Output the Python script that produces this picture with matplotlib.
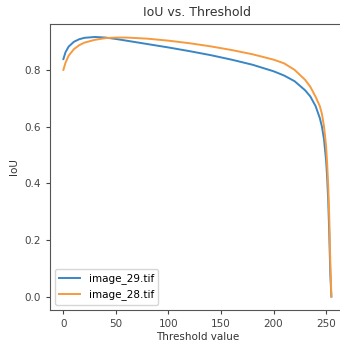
import matplotlib
matplotlib.use("Agg")
import matplotlib.pyplot as plt
import numpy as np

thresholds = [0, 2, 5, 10, 15, 20, 30, 40, 50, 60, 80, 100, 120, 140, 160, 180,
              200, 210, 220, 230, 235, 240, 244, 246, 248, 250, 251, 252, 253, 254, 255]

# image_29.tif
iou_29 = [0.838, 0.862, 0.882, 0.899, 0.908, 0.913, 0.916, 0.914, 0.909, 0.903,
          0.891, 0.879, 0.866, 0.852, 0.836, 0.818, 0.795, 0.780, 0.760, 0.728,
          0.706, 0.672, 0.630, 0.600, 0.555, 0.480, 0.420, 0.340, 0.220, 0.080, 0.0]

# image_28.tif
iou_28 = [0.800, 0.825, 0.850, 0.873, 0.887, 0.896, 0.906, 0.912, 0.914, 0.914,
          0.910, 0.903, 0.894, 0.883, 0.870, 0.855, 0.836, 0.823, 0.800, 0.765,
          0.740, 0.705, 0.672, 0.645, 0.600, 0.530, 0.470, 0.390, 0.280, 0.120, 0.0]

labels = ['image_29.tif', 'image_28.tif']

fig = plt.figure(figsize=(3.4, 3.47), dpi=100)
ax = fig.add_axes([0.147, 0.107, 0.867, 0.824])

ax.plot(thresholds, iou_29, label=labels[0], color='#3a86c4', lw=1.4)
ax.plot(thresholds, iou_28, label=labels[1], color='#f79a3e', lw=1.4)

ax.set_xlim(-12.75, 267.75)
ax.set_ylim(-0.047, 0.962)
ax.set_title('IoU vs. Threshold', fontsize=9, color='#333333')
ax.set_xlabel('Threshold value', fontsize=7.5, color='#333333', labelpad=2)
ax.set_ylabel('IoU', fontsize=7.5, color='#333333')
ax.set_xticks([0, 50, 100, 150, 200, 250])
ax.set_yticks([0.0, 0.2, 0.4, 0.6, 0.8])
ax.tick_params(labelsize=7.5, colors='#444444', length=3)
for s in ax.spines.values():
    s.set_color('#555555')
ax.legend(loc='lower left', fontsize=7.5)

fig.savefig('out.png', dpi=100)
